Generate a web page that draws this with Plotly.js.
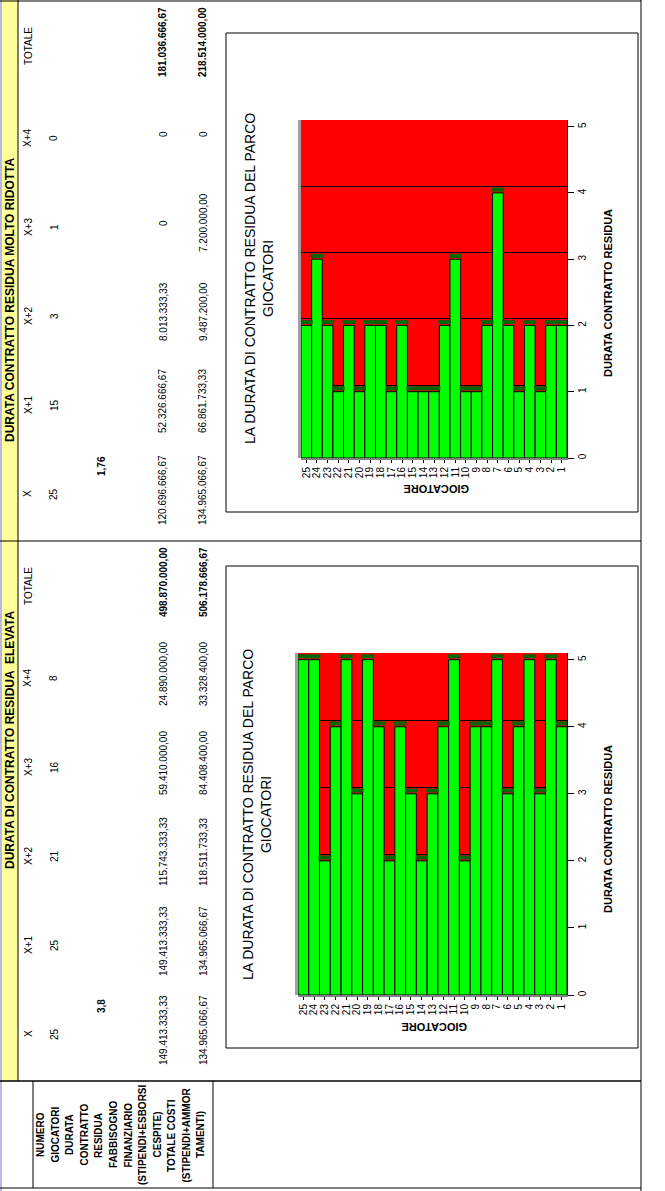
<!DOCTYPE html>
<html><head><meta charset="utf-8">
<script src="https://cdn.plot.ly/plotly-3.0.1.min.js"></script>
<style>html,body{margin:0;padding:0;background:#fff}#chart{width:665px;height:1191px}</style>
</head><body><div id="chart"></div>
<script>
// ---------- DATA ----------
const giocatori = ['25','24','23','22','21','20','19','18','17','16','15','14','13','12','11','10','9','8','7','6','5','4','3','2','1'];
const durataElevata = [5,5,2,4,5,3,5,4,2,4,3,2,3,4,5,2,4,4,5,3,4,5,3,5,4];
const durataRidotta = [2,3,2,1,2,1,2,2,1,2,1,1,1,2,3,1,1,2,4,2,1,2,1,2,2];
const colonne = ['X','X+1','X+2','X+3','X+4','TOTALE'];
const numeroElevata = ['25','25','21','16','8'];
const numeroRidotta = ['25','15','3','1','0'];
const mediaElevata = '3,8';
const mediaRidotta = '1,76';
const fabbisognoElevata = ['149.413.333,33','149.413.333,33','115.743.333,33','59.410.000,00','24.890.000,00','498.870.000,00'];
const costiElevata = ['134.965.066,67','134.965.066,67','118.511.733,33','84.408.400,00','33.328.400,00','506.178.666,67'];
const fabbisognoRidotta = ['120.696.666,67','52.326.666,67','8.013.333,33','0','0','181.036.666,67'];
const costiRidotta = ['134.965.066,67','66.861.733,33','9.487.200,00','7.200.000,00','0','218.514.000,00'];
const rowLabelLines = ['NUMERO','GIOCATORI','DURATA','CONTRATTO','RESIDUA','FABBISOGNO','FINANZIARIO','(STIPENDI+ESBORSI','CESPITE)','TOTALE COSTI','(STIPENDI+AMMOR','TAMENTI)'];
const headerRidotta = 'DURATA CONTRATTO RESIDUA MOLTO RIDOTTA';
const headerElevata = 'DURATA DI CONTRATTO RESIDUA  ELEVATA';
const chartTitle = 'LA DURATA DI CONTRATTO RESIDUA DEL PARCO<br>GIOCATORI';
const catTitle = 'GIOCATORE';
const valTitle = 'DURATA CONTRATTO RESIDUA';
const valTicks = [0,1,2,3,4,5];
const gridTicks = [1,2,3,4];

// ---------- LAYOUT HELPERS ----------
const W = 665, H = 1191;
const X = p => p / W;
const Y = p => 1 - p / H;
const FONT = 'Liberation Sans, Arial, sans-serif';
const NARROW = 'Liberation Sans Narrow, Arial Narrow, Liberation Sans, sans-serif';

const annotations = [];
const shapes = [];
function txt(text, x, y, opts) {
  opts = opts || {};
  annotations.push({
    text: text, x: X(x), y: Y(y), xref: 'paper', yref: 'paper',
    showarrow: false, textangle: opts.angle !== undefined ? opts.angle : -90,
    xanchor: 'center', yanchor: 'middle',
    font: {family: opts.family || FONT, size: opts.size || 10, color: '#000'}
  });
}
function line(x0, y0, x1, y1, color, width) {
  shapes.push({type: 'line', xref: 'paper', yref: 'paper', x0: X(x0), y0: Y(y0), x1: X(x1), y1: Y(y1),
    line: {color: color || '#000', width: width || 1}, layer: 'above'});
}
function rect(x0, y0, x1, y1, fill, lineColor, layer) {
  shapes.push({type: 'rect', xref: 'paper', yref: 'paper', x0: X(x0), y0: Y(y0), x1: X(x1), y1: Y(y1),
    fillcolor: fill || 'rgba(0,0,0,0)', line: {color: lineColor || 'rgba(0,0,0,0)', width: lineColor ? 1 : 0}, layer: layer || 'below'});
}

// ---------- SHEET GRID ----------
rect(0, 0, 2, 1191, '#B8B8E8');
rect(2, 0, 18, 1081, '#FFFF99');
line(18, 0, 18, 1081);
line(0, 1, 641, 1);
line(0, 541, 641, 541);
line(0, 1081, 641, 1081, '#000', 1.5);
line(641, 0, 641, 1191);
line(33, 1081, 33, 1188);
line(213, 1081, 213, 1188);
line(0, 1188, 641, 1188);

// ---------- TABLES ----------
const colCenters = [1034, 945, 856, 767, 678, 586];
const sections = [
  {off: 0, header: headerElevata, headerY: 740, numero: numeroElevata, media: mediaElevata, fabb: fabbisognoElevata, costi: costiElevata},
  {off: -540, header: headerRidotta, headerY: 300 + 540, numero: numeroRidotta, media: mediaRidotta, fabb: fabbisognoRidotta, costi: costiRidotta}
];
sections.forEach(s => {
  txt('<b>' + s.header + '</b>', 10, s.headerY + s.off, {family: NARROW, size: 12});
  colonne.forEach((c, i) => txt(c, 28, colCenters[i] + s.off, {size: 10}));
  s.numero.forEach((v, i) => txt(v, 54, colCenters[i] + s.off, {size: 10}));
  txt('<b>' + s.media + '</b>', 102, 1006 + s.off, {size: 10});
  s.fabb.forEach((v, i) => txt(i === 5 ? '<b>' + v + '</b>' : v, 163, colCenters[i] - 4 + s.off, {size: 10}));
  s.costi.forEach((v, i) => txt(i === 5 ? '<b>' + v + '</b>' : v, 203, colCenters[i] - 4 + s.off, {size: 10}));
});
const labelX = [40, 54.5, 69, 83.5, 98, 113, 127.5, 142, 156.5, 171, 185.5, 200];
rowLabelLines.forEach((l, i) => txt('<b>' + l + '</b>', labelX[i], 1135, {family: NARROW, size: 10}));

// ---------- CHARTS ----------
const charts = [
  {vals: durataElevata, box: [226, 566, 638, 1048], plot: [298, 653, 567, 995], titleX: 257, titleY: 815, catTitleY: 1027, valTitleY: 829},
  {vals: durataRidotta, box: [226, 33, 638, 512], plot: [301, 120, 567, 458], titleX: 259, titleY: 279, catTitleY: 489, valTitleY: 293}
];
const traces = [];
const layout = {
  width: W, height: H, margin: {l: 0, r: 0, t: 0, b: 0},
  paper_bgcolor: '#fff', plot_bgcolor: '#FF0000',
  showlegend: false, barmode: 'overlay', bargap: 0,
  font: {family: FONT, size: 10, color: '#000'},
  annotations: annotations, shapes: shapes
};
const catRange = [-0.5, giocatori.length - 0.5];
charts.forEach((c, k) => {
  const xn = k === 0 ? '' : '2';
  const yBar = k === 0 ? '' : '2';
  const yGrid = k === 0 ? '3' : '4';
  const yCap = k === 0 ? '5' : '6';
  const xa = 'x' + xn, ya = 'y' + yBar;
  traces.push({type: 'bar', x: giocatori, y: c.vals, xaxis: xa, yaxis: ya,
    marker: {color: '#00FF00', line: {color: '#000', width: 1}}, hoverinfo: 'x+y'});
  // back-wall gridlines (3D depth offset) use the same series on a shifted overlay axis
  traces.push({type: 'scatter', mode: 'none', x: giocatori, y: c.vals, xaxis: xa, yaxis: 'y' + yGrid, hoverinfo: 'skip'});
  // dark green 3D top of each bar
  traces.push({type: 'scatter', mode: 'markers', x: giocatori, y: c.vals, xaxis: xa, yaxis: 'y' + yCap, hoverinfo: 'skip',
    marker: {symbol: 'line-ew', size: 9, color: '#006600', line: {color: '#006600', width: 4}}});
  layout['xaxis' + xn] = {domain: [X(c.plot[0]), X(c.plot[2])], anchor: ya, type: 'category',
    categoryorder: 'array', categoryarray: giocatori, tickmode: 'array', tickvals: giocatori, ticktext: giocatori,
    range: catRange, autorange: false,
    tickangle: -90, ticks: 'outside', ticklen: 3,
    tickcolor: '#000', showline: true, linecolor: '#808080', linewidth: 2, showgrid: false, fixedrange: true,
    tickfont: {family: FONT, size: 10}};
  layout['yaxis' + yBar] = {domain: [Y(c.plot[3]), Y(c.plot[1])], anchor: xa, side: 'right',
    range: [0, 5.1], tickvals: valTicks, tickangle: -90, ticks: 'outside', ticklen: 6, tickcolor: '#000',
    showline: true, linecolor: '#000', showgrid: false, zeroline: false, fixedrange: true,
    tickfont: {family: FONT, size: 10}};
  layout['yaxis' + yGrid] = {overlaying: ya, anchor: xa, side: 'right', range: [-0.1, 5.0], tickvals: gridTicks,
    showgrid: true, gridcolor: '#000', gridwidth: 1, showticklabels: false, ticks: '', showline: false,
    zeroline: false, fixedrange: true};
  layout['yaxis' + yCap] = {overlaying: ya, anchor: xa, side: 'right', range: [-0.05, 5.05],
    showgrid: false, showticklabels: false, ticks: '', showline: false, zeroline: false, fixedrange: true};
  rect(c.box[0], c.box[1], c.box[2], c.box[3], 'rgba(0,0,0,0)', '#000', 'above');
  rect(c.plot[0] - 3, c.plot[1], c.plot[0], c.plot[3], '#A0A0A0', null, 'below');
  txt(chartTitle, c.titleX, c.titleY, {family: NARROW, size: 14});
  txt('<b>' + catTitle + '</b>', (c.plot[0] + c.plot[2]) / 2 + 2, c.catTitleY, {family: NARROW, size: 11, angle: 180});
  txt('<b>' + valTitle + '</b>', 608, c.valTitleY, {family: NARROW, size: 11});
});

Plotly.newPlot('chart', traces, layout, {displayModeBar: false, staticPlot: true});
</script>
</body></html>
